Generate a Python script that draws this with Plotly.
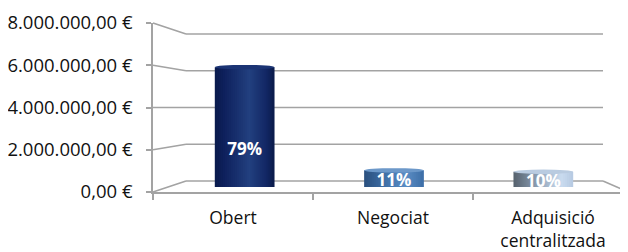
import plotly.graph_objects as go

# ---------------- data ----------------
categories = ["Obert", "Negociat", "Adquisició centralitzada"]
tick_labels = ["Obert", "Negociat", "Adquisició<br>centralitzada"]
amounts = [6050000, 840000, 770000]
y_ticks = [0, 2000000, 4000000, 6000000, 8000000]
Y_MAX = 8000000

total = sum(amounts)
pct_labels = [f"{round(v / total * 100)}%" for v in amounts]


def euro(v):
    s = f"{v:,.2f}".replace(",", "X").replace(".", ",").replace("X", ".")
    return s + " €"


y_tick_text = [euro(v) for v in y_ticks]

# ---------------- style / geometry (screen pixels) ----------------
OFF = 8                      # page body margin
W, H = 628 - OFF, 252 - OFF  # figure size so that it fits the window
FRONT = dict(l=153, r=628, b=192, t=23)    # front plane (axes + labels)
MID = dict(l=170, r=618, b=187, t=28.5)    # plane of the cylinders
BACK = dict(l=186, r=603, b=181, t=34)     # back wall
CAT_PX = 160.0
GRID = "#a3a3a3"
FONT = "Open Sans"
BAR_W = 0.4
N_SLICES = 30
ELL_PX = 2.2


def fx(p):
    return (p - OFF) / W


def fy(p):
    return (H - (p - OFF)) / H


def plane_y(pl, v):
    return pl["b"] - v / Y_MAX * (pl["b"] - pl["t"])


def hex2rgb(h):
    h = h.lstrip("#")
    return [int(h[i:i + 2], 16) for i in (0, 2, 4)]


def ramp(stops, t):
    for (p0, c0), (p1, c1) in zip(stops, stops[1:]):
        if p0 <= t <= p1:
            a = (t - p0) / (p1 - p0) if p1 > p0 else 0
            r0, r1 = hex2rgb(c0), hex2rgb(c1)
            r = [round(r0[k] + (r1[k] - r0[k]) * a) for k in range(3)]
            return f"rgb({r[0]},{r[1]},{r[2]})"
    return stops[-1][1]


bar_stops = [
    [(0, "#0a1a4c"), (0.15, "#0e205c"), (0.58, "#22407f"), (0.85, "#132866"), (1, "#0a1a4a")],
    [(0, "#2a4f7e"), (0.45, "#4679b1"), (0.7, "#5b8dc4"), (1, "#3d6ea7")],
    [(0, "#56616d"), (0.35, "#8598ac"), (0.8, "#cadbef"), (1, "#b6cae2")],
]
top_colors = ["#1b3474", "#6c98c9", "#b9cbe0"]

fig = go.Figure()

# invisible carrier trace for the front axes
fig.add_trace(go.Scatter(x=categories, y=[0] * len(categories), mode="markers",
                         marker=dict(opacity=0), hoverinfo="skip",
                         showlegend=False, xaxis="x", yaxis="y"))

# cylinders, drawn as vertical gradient slices
sw = BAR_W / N_SLICES
for i in range(N_SLICES):
    t = (i + 0.5) / N_SLICES
    w_i = sw * 1.6 if i < N_SLICES - 1 else sw
    fig.add_trace(go.Bar(
        x=categories, y=amounts,
        width=[w_i] * len(categories),
        offset=[-BAR_W / 2 + i * sw] * len(categories),
        marker=dict(color=[ramp(s, t) for s in bar_stops], line=dict(width=0)),
        showlegend=False, hoverinfo="skip", xaxis="x2", yaxis="y2"))

# percentage labels
fig.add_trace(go.Scatter(
    x=categories, y=[v * 0.3 for v in amounts], mode="text", text=pct_labels,
    textfont=dict(family=FONT, size=17, color="white", weight="bold"),
    cliponaxis=True, showlegend=False, hoverinfo="skip", xaxis="x2", yaxis="y2"))

shapes = []
# back-wall gridlines and diagonals to the front axis
for v in y_ticks:
    shapes.append(dict(type="line", xref="paper", yref="paper", layer="below",
                       x0=fx(BACK["l"]), x1=fx(BACK["r"]),
                       y0=fy(plane_y(BACK, v)), y1=fy(plane_y(BACK, v)),
                       line=dict(color=GRID, width=1.6)))
    shapes.append(dict(type="line", xref="paper", yref="paper", layer="below",
                       x0=fx(FRONT["l"]), x1=fx(BACK["l"]),
                       y0=fy(plane_y(FRONT, v)), y1=fy(plane_y(BACK, v)),
                       line=dict(color=GRID, width=1.6)))
# right floor edge
shapes.append(dict(type="line", xref="paper", yref="paper", layer="below",
                   x0=fx(BACK["r"]), x1=1, y0=fy(BACK["b"]), y1=fy(FRONT["b"]),
                   line=dict(color=GRID, width=1.6)))

# cylinder tops
e = ELL_PX * Y_MAX / (MID["b"] - MID["t"])
for i, v in enumerate(amounts):
    shapes.append(dict(type="circle", xref="x2", yref="y2", layer="above",
                       x0=i - BAR_W / 2, x1=i + BAR_W / 2, y0=v - e, y1=v + e,
                       fillcolor=top_colors[i], line=dict(width=0)))

x_front_range = [-0.5, -0.5 + (FRONT["r"] - FRONT["l"]) / CAT_PX]

fig.update_layout(
    width=W, height=H,
    margin=dict(l=0, r=0, t=0, b=0, pad=0, autoexpand=False),
    paper_bgcolor="white", plot_bgcolor="rgba(0,0,0,0)",
    barmode="overlay",
    font=dict(family=FONT, size=17, color="#111111"),
    shapes=shapes,
    xaxis=dict(domain=[fx(FRONT["l"]), fx(FRONT["r"])], anchor="y",
               type="category", categoryorder="array", categoryarray=categories,
               range=x_front_range, tickvals=categories, ticktext=tick_labels,
               tickson="boundaries", ticks="outside", ticklen=6, tickwidth=1.5,
               tickcolor=GRID, showline=True, linecolor=GRID, linewidth=1.6,
               showgrid=False, zeroline=False, ticklabelstandoff=9,
               automargin=False,
               tickfont=dict(family=FONT, size=17.5, color="#111111")),
    yaxis=dict(domain=[fy(FRONT["b"]), fy(FRONT["t"])], anchor="x",
               range=[0, Y_MAX], tickvals=y_ticks, ticktext=y_tick_text,
               ticks="outside", ticklen=5, tickwidth=1.5,
               tickcolor=GRID, showline=True, linecolor=GRID, linewidth=1.6,
               showgrid=False, zeroline=False, ticklabelstandoff=10,
               automargin=False,
               tickfont=dict(family=FONT, size=18.5, color="#111111")),
    xaxis2=dict(domain=[fx(MID["l"]), fx(MID["r"])], anchor="y2",
                type="category", categoryorder="array", categoryarray=categories,
                range=[-0.5, 2.5], visible=False, automargin=False),
    yaxis2=dict(domain=[fy(MID["b"]), fy(MID["t"])], anchor="x2",
                range=[0, Y_MAX], visible=False, automargin=False),
)

fig.write_html("out.html")
